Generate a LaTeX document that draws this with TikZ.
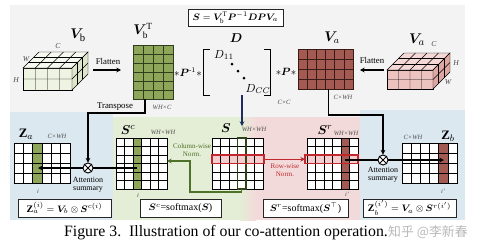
\documentclass[tikz,border=0pt]{standalone}
\usepackage{amsmath}
\usepackage{bm}
\usepackage{fontspec}
\setmainfont{Liberation Serif}
\newfontfamily\cjk{Noto Sans CJK SC}
\usepackage{tikz}
\usetikzlibrary{calc, arrows.meta}
\definecolor{panelgray}{HTML}{F3F3F3}
\definecolor{panelblue}{HTML}{DCE8F0}
\definecolor{panelgreen}{HTML}{E4EDD6}
\definecolor{panelpink}{HTML}{F3DADA}
\definecolor{mgreen}{HTML}{8DA65A}
\definecolor{mgreendk}{HTML}{2F3D1C}
\definecolor{mred}{HTML}{A35A52}
\definecolor{mreddk}{HTML}{3A1A17}
\definecolor{cubeg}{HTML}{EEF3E2}
\definecolor{cubegt}{HTML}{F6F9EF}
\definecolor{cubegs}{HTML}{DDE6CB}
\definecolor{cubep}{HTML}{EDC3C0}
\definecolor{cubept}{HTML}{F4D8D6}
\definecolor{cubeps}{HTML}{DDA7A3}
\definecolor{rowred}{HTML}{C0282D}
\definecolor{rowfill}{HTML}{F6CDCF}
\definecolor{cwgreen}{HTML}{4E7228}
\definecolor{navy}{HTML}{1F2D5C}

\begin{document}
\begin{tikzpicture}[x=0.3mm, y=-0.3mm,
    font=\fontsize{7}{8}\selectfont,
    mat/.style={draw=black, line width=0.5pt, inner sep=0pt,
                outer sep=0pt, anchor=north west},
    lab/.style={font=\fontsize{11}{12}\selectfont},
    dimlab/.style={font=\fontsize{5.5}{6}\selectfont\itshape, text=black!70},
    note/.style={align=center, font=\fontsize{6.8}{7.2}\selectfont},
    eqbox/.style={draw=black!85, fill=white, line width=0.6pt,
                  minimum height=5.4mm, inner sep=1pt,
                  font=\fontsize{8.5}{9}\selectfont},
    cubeline/.style={draw=black, line width=0.4pt},
    flowline/.style={draw=black, line width=0.9pt},
    flow/.style={flowline, -{Stealth[length=4pt, width=4pt]}},
    otimes/.style={circle, draw=black, line width=0.8pt, fill=white,
                   minimum size=3mm, inner sep=0pt},
  ]
  \useasboundingbox (0,0) rectangle (479,251);

  % panels
  \fill[panelgray] (10,5) rectangle (465,220);
  \fill[panelblue] (10,112) rectangle (113,220);
  \fill[panelgreen] (113,117) rectangle (240,220);
  \shade[left color=panelgreen, right color=panelpink] (240,117) rectangle (256,220);
  \fill[panelpink] (256,117) rectangle (360,220);
  \fill[panelblue] (360,110) rectangle (465,220);

  % cubes
  \foreach \cx/\cy/\w/\h/\d/\cf/\ct/\cs in {23/90/49/22/16/cubeg/cubegt/cubegs,
                                             387/89/46/19/17/cubep/cubept/cubeps} {
    \begin{scope}[shift={(\cx,\cy)}]
      \filldraw[fill=\cf, cubeline] (0,0) rectangle (\w,-\h);
      \filldraw[fill=\ct, cubeline] (0,-\h) -- (\w,-\h) -- ++(\d,-\d) -- ++(-\w,0) -- cycle;
      \filldraw[fill=\cs, cubeline] (\w,0) -- (\w,-\h) -- ++(\d,-\d) -- ++(0,\h) -- cycle;
      \foreach \k in {1,2,3}
        \draw[cubeline] (\k*\w/4,0) -- (\k*\w/4,-\h) -- ++(\d,-\d);
      \foreach \k in {1,2}
        \draw[cubeline] (\k*\d/3,-\h-\k*\d/3) -- ++(\w,0) -- ++(0,\h);
      \draw[cubeline] (0,-\h/2) -- (\w,-\h/2) -- ++(\d,-\d);
    \end{scope}
  }
  \node[font=\fontsize{13}{14}\selectfont] (vblab) at (78,35) {$\bm{V}_{\mathrm{b}}$};
  \node[dimlab, font=\fontsize{6.5}{7}\selectfont\itshape] (cubebc) at (58,46) {C};
  \node[dimlab, font=\fontsize{6.5}{7}\selectfont\itshape] (cubebw) at (26,59) {W};
  \node[dimlab, font=\fontsize{6.5}{7}\selectfont\itshape] (cubebh) at (16,80) {H};
  \node[font=\fontsize{13}{14}\selectfont] (calab) at (417,40) {$\bm{V}_{a}$};
  \node[dimlab, font=\fontsize{6.5}{7}\selectfont\itshape] (cubeac) at (434,44) {C};
  \node[dimlab, font=\fontsize{6.5}{7}\selectfont\itshape] (cubeah) at (456,63) {H};
  \node[dimlab, font=\fontsize{6.5}{7}\selectfont\itshape] (cubeaw) at (448,82) {W};

  % flatten
  \node[note, font=\fontsize{7.5}{8}\selectfont] (flatb) at (108,61) {Flatten};
  \coordinate (fb1) at (93,70);
  \coordinate (fb2) at (121,70);
  \draw[flow, line width=1.2pt] (fb1) -- (fb2);
  \node[note, font=\fontsize{7.5}{8}\selectfont] (flata) at (372,60) {Flatten};
  \coordinate (fa1) at (384,70);
  \coordinate (fa2) at (360,70);
  \draw[flow, line width=1.2pt] (fa1) -- (fa2);

  % matrices
  \node[mat, fill=mgreen, draw=mgreendk, minimum width=12mm, minimum height=16.2mm] (vbt) at (133,45) {};
  \node[mat, fill=mred, draw=mreddk, minimum width=16.5mm, minimum height=12mm] (va) at (298,49) {};
  \node[mat, fill=white, minimum width=16.8mm, minimum height=12mm] (za) at (14,143) {};
  \node[mat, fill=white, minimum width=15.3mm, minimum height=15.3mm] (sc) at (116,138) {};
  \node[mat, fill=white, minimum width=15.3mm, minimum height=15.3mm] (s) at (212,138) {};
  \node[mat, fill=white, minimum width=15.3mm, minimum height=15.3mm] (sr) at (307,138) {};
  \node[mat, fill=white, minimum width=16.5mm, minimum height=12mm] (zb) at (402,143) {};

  % highlighted columns and rows
  \fill[mgreen] ($(za.north west)!2/6!(za.north east)$) rectangle ($(za.south west)!3/6!(za.south east)$);
  \fill[mgreen] ($(sc.north west)!2/6!(sc.north east)$) rectangle ($(sc.south west)!3/6!(sc.south east)$);
  \fill[rowfill] ($(s.north west)!2/6!(s.south west)$) rectangle ($(s.north east)!3/6!(s.south east)$);
  \fill[rowfill] ($(sr.north west)!2/6!(sr.south west)$) rectangle ($(sr.north east)!3/6!(sr.south east)$);
  \fill[mred] ($(sr.north west)!4/6!(sr.north east)$) rectangle ($(sr.south west)!5/6!(sr.south east)$);
  \fill[mred] ($(zb.north west)!4/6!(zb.north east)$) rectangle ($(zb.south west)!5/6!(zb.south east)$);

  \foreach \m/\c/\r/\col in {vbt/4/6/mgreendk, va/6/4/mreddk, za/6/4/black, sc/6/6/black,
                             s/6/6/black, sr/6/6/black, zb/6/4/black} {
    \foreach \k in {0,...,\c}
      \draw[draw=\col, line width=0.5pt] ($(\m.north west)!\k/\c!(\m.north east)$) -- ($(\m.south west)!\k/\c!(\m.south east)$);
    \foreach \k in {0,...,\r}
      \draw[draw=\col, line width=0.5pt] ($(\m.north west)!\k/\r!(\m.south west)$) -- ($(\m.north east)!\k/\r!(\m.south east)$);
  }
  \draw[cwgreen!60!black, line width=0.9pt] ($(s.north west)!3/6!(s.north east)$) rectangle ($(s.south west)!4/6!(s.south east)$);
  \draw[rowred, line width=1pt] ($(s.north west)!2/6!(s.south west)$) rectangle ($(s.north east)!3/6!(s.south east)+(1,0)$);
  \draw[rowred, line width=1pt] ($(sr.north west)!2/6!(sr.south west)+(-2,0)$) rectangle ($(sr.north east)!3/6!(sr.south east)$);

  % matrix labels
  \node[font=\fontsize{12}{13}\selectfont] (vbtlab) at (143,31) {$\bm{V}_{\mathrm{b}}^{\mathrm{T}}$};
  \node[dimlab] (vbtdim) at (162,107) {WH×C};
  \node[font=\fontsize{12}{13}\selectfont] (valab) at (332,38) {$\bm{V}_{a}$};
  \node[dimlab] (vadim) at (343,97) {C×WH};
  \node[lab] (zalab) at (26,134) {$\mathbf{Z}_{a}$};
  \node[dimlab] (zadim) at (57,136) {C×WH};
  \node[lab] (sclab) at (128,130) {$\bm{S}^{c}$};
  \node[dimlab] (scdim) at (163,132) {WH×WH};
  \node[lab] (slab) at (226,128) {$\bm{S}$};
  \node[dimlab] (sdim) at (254,129) {WH×WH};
  \node[lab] (srlab) at (325,130) {$\bm{S}^{r}$};
  \node[dimlab] (srdim) at (346,133) {WH×WH};
  \node[dimlab] (zbdim) at (413,137) {C×WH};
  \node[lab] (zblab) at (448,136) {$\mathbf{Z}_{b}$};
  \node[dimlab] (zai) at (38,191) {i};
  \node[dimlab] (sci) at (138,195) {i};
  \node[dimlab] (sri) at (347,194) {i'};
  \node[dimlab] (zbi) at (443,191) {i'};

  % D and products
  \node[eqbox, minimum width=28.5mm, minimum height=5.1mm, font=\fontsize{8}{9}\selectfont] (seq) at (235.5,18) {$\bm{S} = \bm{V}_{\mathrm{b}}^{\mathrm{T}}\bm{P}^{-1}\bm{D}\bm{P}\bm{V}_{a}$};
  \node[lab] (dlab) at (236,38) {$\bm{D}$};
  \node[minimum width=20.1mm, minimum height=13.8mm, inner sep=0pt, anchor=north west] (dmat) at (203,49) {};
  \draw[line width=0.6pt] ([xshift=2mm]dmat.north west) -- (dmat.north west) -- (dmat.south west) -- ([xshift=2mm]dmat.south west);
  \draw[line width=0.6pt] ([xshift=-2mm]dmat.north east) -- (dmat.north east) -- (dmat.south east) -- ([xshift=-2mm]dmat.south east);
  \node[font=\fontsize{10}{11}\selectfont] (d11) at (224,55) {$D_{11}$};
  \node[font=\fontsize{10}{11}\selectfont] (dcc) at (258,89) {$D_{CC}$};
  \foreach \p in {(232,64),(238,71),(244,78)}
    \fill \p circle (0.45mm);
  \node[dimlab] (ccdim) at (284,102) {C×C};
  \node[font=\fontsize{9}{10}\selectfont] (pinv) at (188,72) {$\ast\bm{P}^{\text{-}1}\ast$};
  \node[font=\fontsize{9}{10}\selectfont] (pmul) at (286,72) {$\ast\bm{P}\ast$};

  % D to S
  \coordinate (sin) at (242,126);
  \draw[draw=navy, line width=0.9pt, -{Stealth[length=4pt, width=4pt]}] (sin |- dmat.south) -- (sin);

  % attention summary (left)
  \node[otimes] (oxl) at (88,168) {};
  \draw[line width=0.7pt] (oxl.north west) -- (oxl.south east) (oxl.north east) -- (oxl.south west);
  \node[note] (asl) at (88,185) {Attention\\summary};
  \node[note, font=\fontsize{7.5}{8}\selectfont] (tp) at (115,107) {Transpose};
  \coordinate (vbtout) at ($(vbt.south west)!0.3!(vbt.south east)$);
  \draw[flow] (vbtout) -- ++(0,14) -| (oxl);
  \coordinate (sccol) at (137,168);
  \coordinate (zacol) at (38,168);
  \draw[flowline] (sccol) -- (oxl);
  \draw[flow] (oxl) -- (zacol);

  % attention summary (right)
  \node[otimes] (oxr) at (383,160) {};
  \draw[line width=0.7pt] (oxr.north west) -- (oxr.south east) (oxr.north east) -- (oxr.south west);
  \node[note] (asr) at (383,175) {Attention\\summary};
  \coordinate (vaout) at ($(va.south west)!0.55!(va.south east)$);
  \draw[flow] (vaout) -- ++(0,26) -| (oxr);
  \coordinate (srcol) at (345,160);
  \coordinate (zbcol) at (444,160);
  \draw[flowline] (srcol) -- (oxr);
  \draw[flow] (oxr) -- (zbcol);

  % normalisations
  \node[note, text=cwgreen, font=\fontsize{6}{6.5}\selectfont] (cwn) at (192,150) {Column-wise\\Norm.};
  \coordinate (scolb) at ($(s.south west)!3.5/6!(s.south east)$);
  \coordinate (cwturn) at (190,161);
  \draw[draw=cwgreen, line width=0.9pt, -{Stealth[length=4pt, width=4pt]}] (scolb) -- ++(0,3) -| (cwturn) -- (cwturn -| sc.east);
  \node[note, text=rowred, font=\fontsize{6}{6.5}\selectfont] (rwn) at (285,170) {Row-wise\\Norm.};
  \coordinate (srow) at ($(s.north east)!2.5/6!(s.south east)+(1,0)$);
  \draw[draw=rowred, line width=0.9pt, -{Stealth[length=4pt, width=4pt]}] (srow) -- ($(srow -| sr.west)+(-2,0)$);

  % formulas
  \node[eqbox, minimum width=27.9mm] (eqza) at (64.5,208) {$\mathbf{Z}_{a}^{(i)} = \bm{V}_{b} \otimes \bm{S}^{c(i)}$};
  \node[eqbox, minimum width=24.3mm] (eqsc) at (180.5,208) {$\bm{S}^{c}$=softmax($\bm{S}$)};
  \node[eqbox, minimum width=25.5mm] (eqsr) at (305.5,208) {$\bm{S}^{r}$=softmax($\bm{S}^{\top}$)};
  \node[eqbox, minimum width=27.9mm] (eqzb) at (409.5,208) {$\mathbf{Z}_{b}^{(i')} = \bm{V}_{a} \otimes \bm{S}^{r(i')}$};

  % caption
  \node[font=\fontsize{13.5}{15}\selectfont] (cap) at (226,233) {Figure 3.\enspace Illustration of our co-attention operation.};
  \node[font=\cjk\fontsize{11}{12}\selectfont, text=black!28] (wm) at (428,232) {知乎 @李新春};
\end{tikzpicture}
\end{document}
